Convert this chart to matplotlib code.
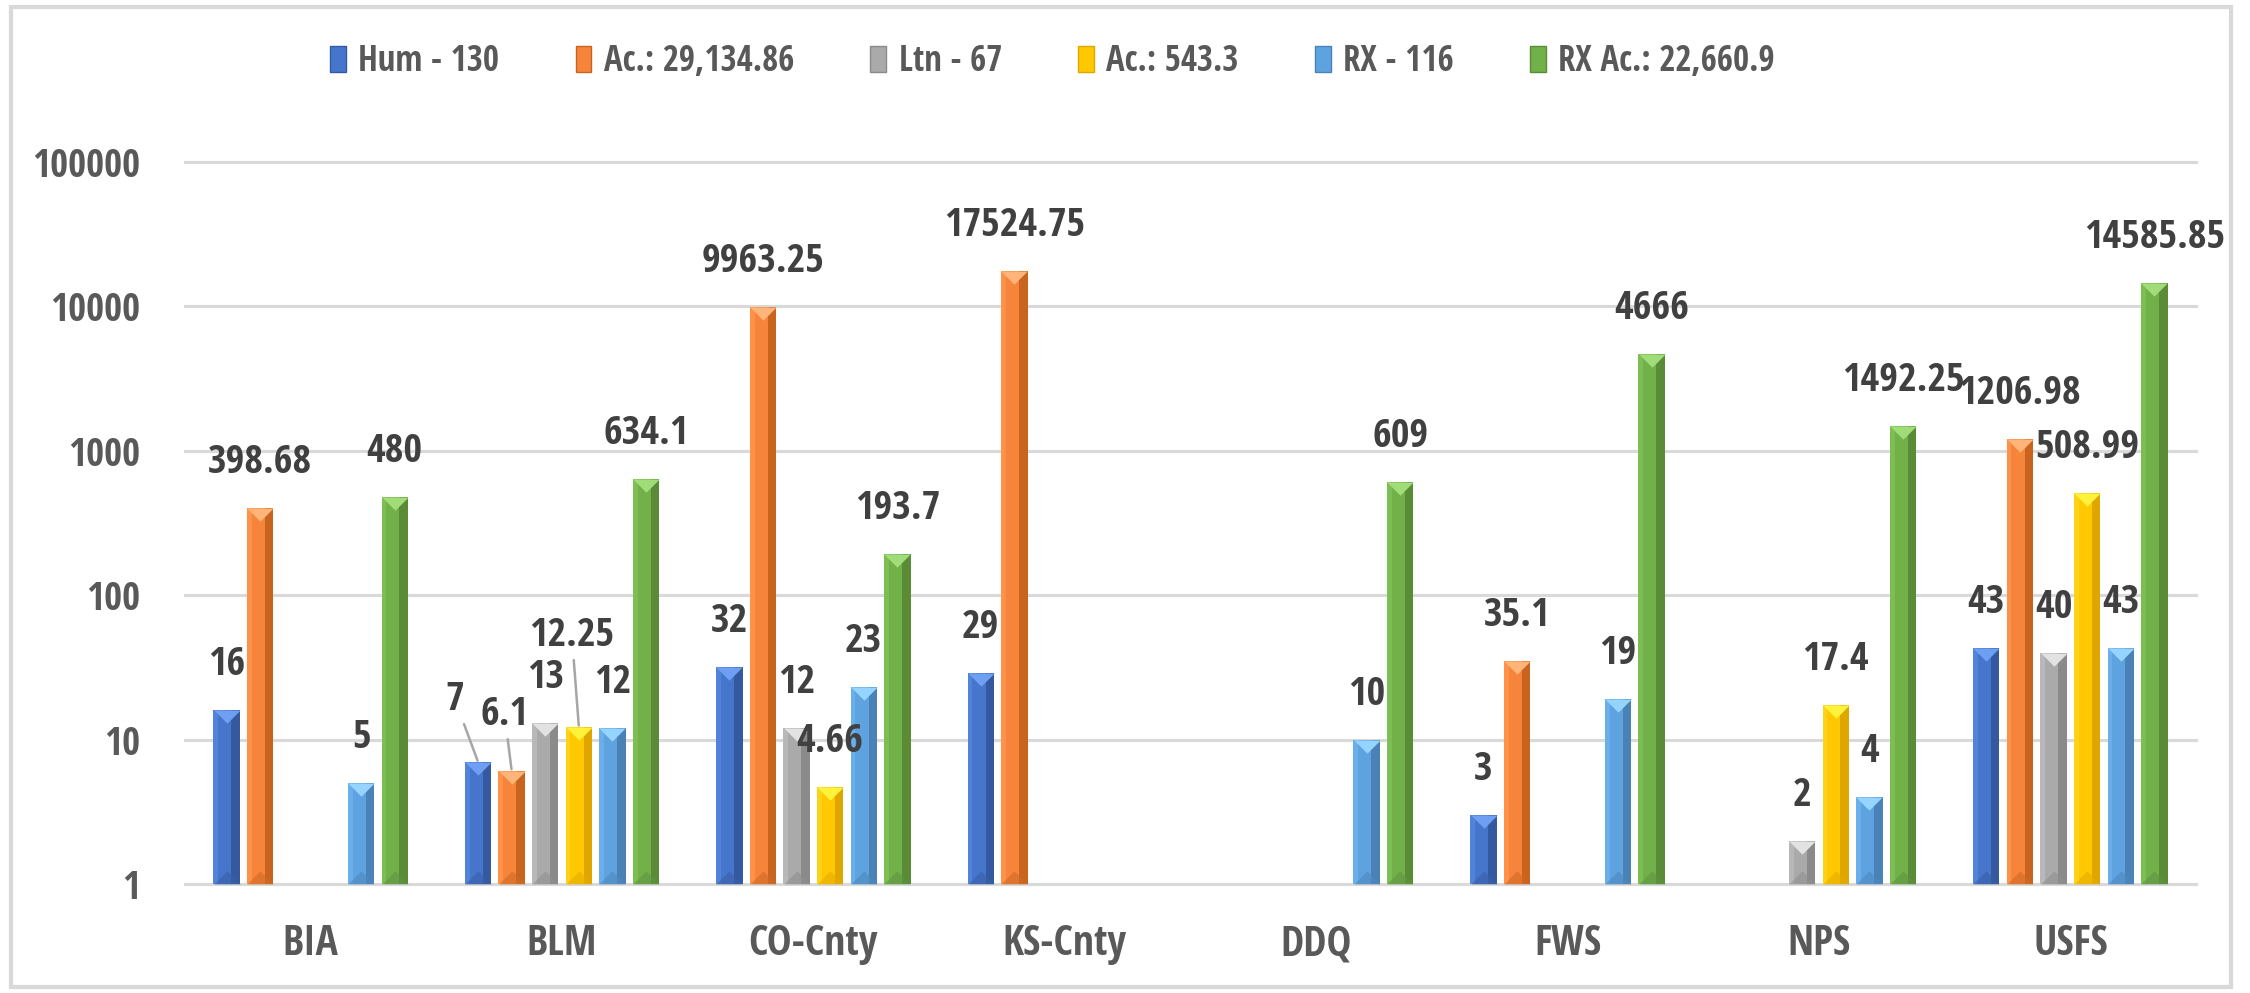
import matplotlib
matplotlib.use('Agg')
import matplotlib.pyplot as plt
import numpy as np
from matplotlib import font_manager as fm
from matplotlib.patches import Patch, Rectangle
from matplotlib.path import Path
from matplotlib.ticker import NullLocator

nan = np.nan
categories = ['BIA', 'BLM', 'CO-Cnty', 'KS-Cnty', 'DDQ', 'FWS', 'NPS', 'USFS']
series_names = ['Hum - 130', 'Ac.: 29,134.86', 'Ltn - 67', 'Ac.: 543.3', 'RX - 116', 'RX Ac.: 22,660.9']
hum = [16, 7, 32, 29, nan, 3, nan, 43]
hum_acres = [398.68, 6.1, 9963.25, 17524.75, nan, 35.1, nan, 1206.98]
ltn = [nan, 13, 12, nan, nan, nan, 2, 40]
ltn_acres = [nan, 12.25, 4.66, nan, nan, nan, 17.4, 508.99]
rx = [5, 12, 23, nan, 10, 19, 4, 43]
rx_acres = [480, 634.1, 193.7, nan, 609, 4666, 1492.25, 14585.85]
yticks = [1, 10, 100, 1000, 10000, 100000]

series = [hum, hum_acres, ltn, ltn_acres, rx, rx_acres]
# (base, light strip, dark strip, top triangle, bottom triangle)
styles = [
    ('#4676CC', '#5283DA', '#34599F', '#6F9FF2', '#3A60A8'),
    ('#F6843A', '#FF9248', '#C9641F', '#FFB47A', '#D06A28'),
    ('#AAAAAA', '#B8B8B8', '#8A8A8A', '#E2E2E2', '#909090'),
    ('#FFC800', '#FFD21A', '#E0A600', '#FFF23A', '#E5AC00'),
    ('#5EA2E0', '#6AAEEB', '#4A82B8', '#95D4FF', '#4E88C0'),
    ('#72B04A', '#7DBE52', '#5A8C38', '#A0DC78', '#5E9440'),
]


def find_narrow():
    """Look for an installed narrow / condensed bold face."""
    best = None
    for f in fm.fontManager.ttflist:
        name = f.name.lower()
        fname = f.fname.lower()
        narrow = ('narrow' in name or 'condensed' in name or 'narrow' in fname
                  or 'condensed' in fname or str(f.stretch) in ('condensed', 'semi-condensed', '375', '500'))
        if not narrow:
            continue
        w = f.weight if isinstance(f.weight, int) else (700 if 'bold' in str(f.weight) else 400)
        bold = w >= 600 or 'bold' in fname
        score = (2 if 'liberation' in fname else 1 if 'roboto' in fname or 'open' in fname else 0) + (3 if bold else 0)
        if 'italic' in fname or 'oblique' in fname:
            continue
        if best is None or score > best[0]:
            best = (score, f.fname, bold)
    return best


nb = find_narrow()
if nb is not None:
    def FP(size):
        return fm.FontProperties(fname=nb[1], size=size, weight='bold')
    S_LABEL, S_YTICK, S_XTICK, S_LEG = 29, 28, 30, 25
else:
    def FP(size):
        return fm.FontProperties(family='Lato', size=size, weight='bold')
    S_LABEL, S_YTICK, S_XTICK, S_LEG = 27, 23, 25, 21


def fmt(v):
    return f"{v:.2f}".rstrip('0').rstrip('.')


W, H = 2250, 993
fig = plt.figure(figsize=(W / 100, H / 100), dpi=100)
fig.patch.set_facecolor('white')
ax = fig.add_axes([185 / W, 1 - 884 / H, (2196 - 185) / W, (884 - 162) / H])
ax.set_yscale('log')
ax.set_ylim(1, 1e5)
ax.set_xlim(-0.5, len(categories) - 0.5)
for s in ax.spines.values():
    s.set_visible(False)
ax.tick_params(length=0)
ax.yaxis.set_minor_locator(NullLocator())
for t in yticks:
    ax.axhline(t, color='#d9d9d9', lw=2.2, zorder=0, clip_on=False)
ax.set_yticks(yticks)
ax.set_yticklabels([str(t) for t in yticks], fontproperties=FP(S_YTICK), color='#595959')
ax.tick_params(axis='y', pad=32)
x = np.arange(len(categories))
ax.set_xticks(x)
ax.set_xticklabels(categories, fontproperties=FP(S_XTICK), color='#595959')
ax.tick_params(axis='x', pad=29)

pitch = 0.1337
bw = 0.105
bw_pts = bw * (2196 - 185) / len(categories) * 72 / 100

top_tri = Path([(-1, 0), (1, 0), (0, -1), (-1, 0)], [Path.MOVETO, Path.LINETO, Path.LINETO, Path.CLOSEPOLY])
bot_tri = Path([(-1, 0), (1, 0), (0, 1), (-1, 0)], [Path.MOVETO, Path.LINETO, Path.LINETO, Path.CLOSEPOLY])

label_offsets = {(1, 0): (-16.5, 44.6), (1, 1): (-5, 40), (1, 3): (-5, 65.5)}

for j, vals in enumerate(series):
    base, light, dark, tri, btri = styles[j]
    v = np.array(vals, dtype=float)
    xs = x + (j - 2.5) * pitch
    m = ~np.isnan(v)
    ax.bar(xs[m], v[m] - 1, bottom=1, width=bw, color=base, zorder=2, lw=0)
    ax.bar(xs[m] - bw * 0.41, v[m] - 1, bottom=1, width=bw * 0.18, color=light, zorder=3, lw=0)
    ax.bar(xs[m] + bw * 0.34, v[m] - 1, bottom=1, width=bw * 0.32, color=dark, zorder=3, lw=0)
    ax.plot(xs[m], v[m], ls='none', marker=top_tri, ms=bw_pts, mfc=tri, mew=0, zorder=4, clip_on=False)
    ax.plot(xs[m], np.ones(m.sum()), ls='none', marker=bot_tri, ms=bw_pts, mfc=btri, mew=0,
            zorder=4, alpha=0.6)
    for i in np.where(m)[0]:
        key = (int(i), j)
        dx, dy = label_offsets.get(key, (0, 32.4))
        arrow = dict(arrowstyle='-', color='#a6a6a6', lw=1.8, shrinkA=1, shrinkB=1) if key in label_offsets else None
        ax.annotate(fmt(v[i]), xy=(xs[i], v[i]), xytext=(dx, dy), textcoords='offset points',
                    ha='center', va='center', fontproperties=FP(S_LABEL),
                    color='#404040', zorder=6, annotation_clip=False, arrowprops=arrow)

handles = [Patch(facecolor=styles[j][0], edgecolor=styles[j][2], lw=1) for j in range(len(series))]
leg = fig.legend(handles, series_names, loc='center left', bbox_to_anchor=(330 / W, 1 - 62 / H), ncol=6,
                 frameon=False, prop=FP(S_LEG), borderpad=0, borderaxespad=0,
                 handlelength=0.46, handleheight=0.8, handletextpad=0.35, columnspacing=2.2)
for t in leg.get_texts():
    t.set_color('#595959')

fig.patches.append(Rectangle((11 / W, 6 / H), (2231 - 11) / W, (987 - 7) / H, transform=fig.transFigure,
                             fill=False, edgecolor='#d9d9d9', lw=3))

fig.savefig('out.png', dpi=100)
